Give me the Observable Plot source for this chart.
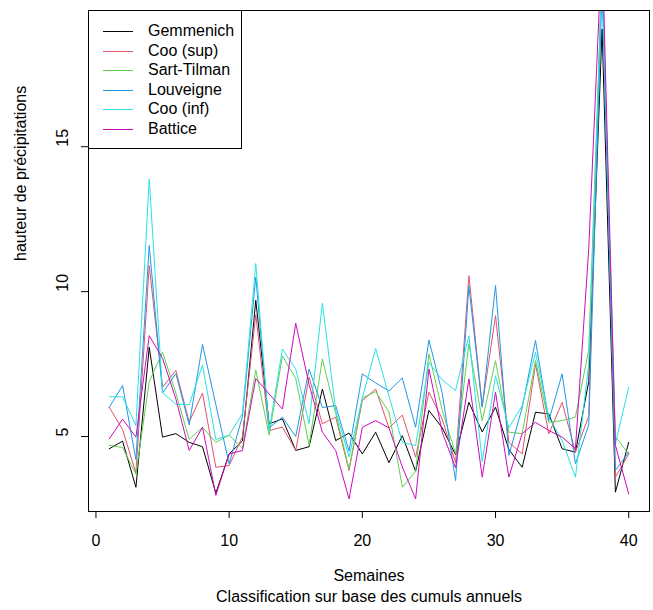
<!DOCTYPE html>
<html><head><meta charset="utf-8">
<script src="https://cdn.jsdelivr.net/npm/d3@7"></script>
<script src="https://cdn.jsdelivr.net/npm/@observablehq/plot@0.6"></script>
<style>
body{margin:0;background:#fff;font-family:"Liberation Sans",Arial,sans-serif;}
#wrap{position:relative;width:653px;height:610px;}
#legend{position:absolute;left:88px;top:10px;width:152px;height:137px;border:1px solid #000;background:#fff;}
.item{position:absolute;left:0;width:152px;height:20px;font-size:16px;line-height:20px;color:#000;}
.sw{position:absolute;left:14px;width:30px;top:10px;height:1px;}
.lb{position:absolute;left:59px;top:0;white-space:nowrap;}
</style></head>
<body>
<div id="wrap"><div id="chart"></div><div id="legend"></div></div>
<script>
const weeks = [1,2,3,4,5,6,7,8,9,10,11,12,13,14,15,16,17,18,19,20,21,22,23,24,25,26,27,28,29,30,31,32,33,34,35,36,37,38,39,40];
const seriesNames = ["Gemmenich","Coo (sup)","Sart-Tilman","Louveigne","Coo (inf)","Battice"];
const seriesColors = ["#000000","#DF536B","#61D04F","#2297E6","#28E2E5","#CD0BBC"];
const gemmenich = [4.58,4.84,3.25,8.08,4.98,5.10,4.80,4.65,3.05,4.40,4.85,9.70,5.44,5.61,4.52,4.65,6.64,4.86,5.12,4.40,5.15,4.10,5.03,3.80,5.90,5.30,4.37,6.18,5.16,6.01,4.55,3.94,5.84,5.78,4.58,4.46,6.90,19.06,3.08,4.80];
const cooSup    = [6.01,5.24,3.74,10.90,6.70,7.28,5.50,6.50,3.94,4.00,5.00,9.20,5.20,5.33,4.52,7.05,5.44,5.67,3.83,6.24,6.64,5.30,5.74,4.29,6.53,5.60,4.10,10.55,6.05,9.17,4.80,4.40,7.50,5.09,6.18,4.46,5.70,21.5,3.60,4.40];
const sartTilman= [4.70,4.62,3.70,6.90,7.91,6.50,4.90,5.32,4.80,5.05,4.60,7.30,5.05,7.78,7.00,4.70,7.68,5.80,3.88,6.33,6.55,5.85,3.25,3.80,7.85,5.90,4.40,8.20,5.55,7.62,5.15,5.10,7.62,5.49,5.55,5.67,8.00,21.0,5.00,4.40];
const louveigne = [6.01,6.76,4.20,11.59,6.50,7.17,5.40,8.18,6.10,4.06,5.70,10.50,5.30,5.67,5.00,7.33,6.00,6.07,4.50,7.16,6.85,6.57,7.02,5.32,8.33,6.50,3.48,10.20,6.01,10.21,4.35,6.00,8.32,5.55,7.16,4.06,5.40,20.5,3.83,4.46];
const cooInf    = [6.37,6.37,5.38,13.89,6.50,6.12,6.10,7.47,4.90,5.05,5.80,10.97,5.20,8.02,7.33,5.45,9.60,5.90,4.30,6.33,8.04,6.40,4.80,4.69,7.56,6.95,6.59,8.48,4.14,7.10,5.30,6.07,7.90,5.67,4.86,3.60,7.50,21.0,4.75,6.70];
const battice   = [4.92,5.60,4.98,8.48,7.70,6.30,4.52,5.32,2.97,4.40,4.52,7.00,6.47,5.95,8.91,6.80,5.15,4.52,2.85,5.32,5.55,5.30,3.95,2.85,7.33,5.15,3.92,6.99,3.60,6.53,3.60,5.10,5.49,5.21,4.98,4.58,11.5,22.0,4.70,3.02];
const xTicks = [0,10,20,30,40];
const yTicks = [5,10,15];
const xLabel = "Semaines";
const subTitle = "Classification sur base des cumuls annuels";
const yLabel = "hauteur de précipitations";

const allSeries = [gemmenich, cooSup, sartTilman, louveigne, cooInf, battice];
const rows = [];
allSeries.forEach((arr, i) => arr.forEach((v, j) => rows.push({week: weeks[j], value: v, station: seriesNames[i]})));

const chart = Plot.plot({
  width: 653, height: 610,
  marginLeft: 88, marginRight: 4, marginTop: 10, marginBottom: 99,
  style: {fontFamily: "'Liberation Sans', Arial, sans-serif", fontSize: "16px", background: "#fff", color: "#000"},
  x: {domain: [-0.56, 41.56], label: null},
  y: {domain: [2.414, 19.70], label: null},
  color: {domain: seriesNames, range: seriesColors},
  marks: [
    Plot.line(rows, {x: "week", y: "value", z: "station", stroke: "station", strokeWidth: 1, clip: true}),
    Plot.frame({stroke: "#000", strokeWidth: 1}),
    Plot.axisX({ticks: xTicks, tickSize: 7, tickPadding: 16, label: null, fontSize: 16, tickFormat: d => String(d)}),
    Plot.axisY({ticks: yTicks, tickSize: 7, tickFormat: () => "", label: null}),
    Plot.text(yTicks, {y: d => d, text: d => String(d), frameAnchor: "left", dx: -26, rotate: -90, fontSize: 16, fill: "#000"}),
    Plot.text([yLabel], {text: d => d, frameAnchor: "left", dx: -68, rotate: -90, fontSize: 16, fill: "#000"}),
    Plot.text([xLabel], {text: d => d, frameAnchor: "bottom", dy: 69, fontSize: 16, fill: "#000"}),
    Plot.text([subTitle], {text: d => d, frameAnchor: "bottom", dy: 90, fontSize: 16, fill: "#000"})
  ]
});
document.getElementById("chart").appendChild(chart);

const leg = document.getElementById("legend");
seriesNames.forEach((name, i) => {
  const it = document.createElement("div");
  it.className = "item";
  it.style.top = (10 + i * 19.5) + "px";
  const sw = document.createElement("span");
  sw.className = "sw";
  sw.style.background = seriesColors[i];
  const lb = document.createElement("span");
  lb.className = "lb";
  lb.textContent = name;
  it.appendChild(sw); it.appendChild(lb);
  leg.appendChild(it);
});
</script>
</body></html>
